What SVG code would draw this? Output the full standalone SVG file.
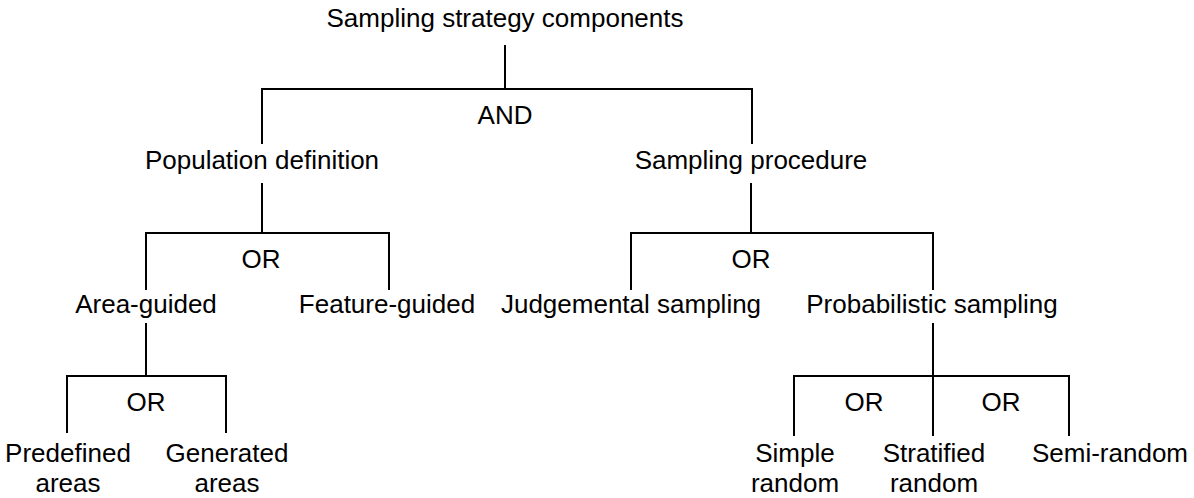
<svg xmlns="http://www.w3.org/2000/svg" width="1194" height="498" viewBox="0 0 1194 498">
<style>
text{font-family:"Liberation Sans",Arial,sans-serif;font-size:26px;fill:#000;text-anchor:middle}
.c line{stroke:#000;stroke-width:2;fill:none}
</style>
<rect width="1194" height="498" fill="#fff"/>
<g class="c" id="connectors">
<line x1="505" y1="45" x2="505" y2="89"/>
<line x1="261" y1="89" x2="753" y2="89"/>
<line x1="262" y1="89" x2="262" y2="144"/>
<line x1="752" y1="89" x2="752" y2="144"/>
<line x1="262" y1="183" x2="262" y2="233"/>
<line x1="145" y1="233" x2="390" y2="233"/>
<line x1="146" y1="233" x2="146" y2="290"/>
<line x1="389" y1="233" x2="389" y2="290"/>
<line x1="146" y1="323" x2="146" y2="376"/>
<line x1="66" y1="376" x2="227" y2="376"/>
<line x1="67" y1="376" x2="67" y2="433"/>
<line x1="226" y1="376" x2="226" y2="433"/>
<line x1="751" y1="183" x2="751" y2="233"/>
<line x1="630" y1="233" x2="934" y2="233"/>
<line x1="631" y1="233" x2="631" y2="290"/>
<line x1="933" y1="233" x2="933" y2="290"/>
<line x1="933" y1="323" x2="933" y2="436"/>
<line x1="793" y1="376" x2="1070" y2="376"/>
<line x1="794" y1="376" x2="794" y2="436"/>
<line x1="1069" y1="376" x2="1069" y2="436"/>
</g>
<g id="root"><text x="505" y="27">Sampling strategy components</text></g>
<g id="and"><text x="505" y="124">AND</text></g>
<g id="population"><text x="262" y="169">Population definition</text></g>
<g id="procedure"><text x="751" y="169">Sampling procedure</text></g>
<g id="or1"><text x="261" y="268">OR</text></g>
<g id="or2"><text x="751" y="268">OR</text></g>
<g id="area"><text x="146" y="313">Area-guided</text></g>
<g id="feature"><text x="387" y="313">Feature-guided</text></g>
<g id="judgemental"><text x="631" y="313">Judgemental sampling</text></g>
<g id="probabilistic"><text x="932" y="313">Probabilistic sampling</text></g>
<g id="or3"><text x="146" y="411">OR</text></g>
<g id="or4"><text x="864" y="411">OR</text></g>
<g id="or5"><text x="1001" y="411">OR</text></g>
<g id="predefined"><text x="68" y="462">Predefined</text><text x="68" y="492">areas</text></g>
<g id="generated"><text x="227" y="462">Generated</text><text x="227" y="492">areas</text></g>
<g id="simple"><text x="795" y="462">Simple</text><text x="795" y="492">random</text></g>
<g id="stratified"><text x="934" y="462">Stratified</text><text x="934" y="492">random</text></g>
<g id="semirandom"><text x="1110" y="462">Semi-random</text></g>
</svg>
